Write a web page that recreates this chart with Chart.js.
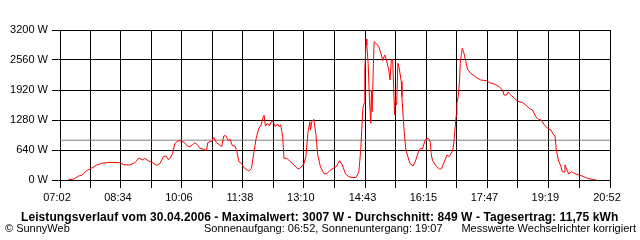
<!DOCTYPE html>
<html>
<head>
<meta charset="utf-8">
<script src="https://cdn.jsdelivr.net/npm/chart.js@4"></script>
<style>
  html, body { margin: 0; padding: 0; background: #fff; }
  #wrap { position: relative; width: 640px; height: 240px; overflow: hidden; }
  canvas { position: absolute; left: 0; top: 0; }
  .txt { position: absolute; white-space: nowrap; font-family: "Liberation Sans", Arial, sans-serif; color: #000; }
  #title { left: 21px; top: 210px; font-size: 12px; line-height: 14px; font-weight: bold; letter-spacing: 0.08px; }
  #copy { left: 5px; top: 222px; font-size: 11px; line-height: 13px; }
  #sun { left: 204px; top: 222px; font-size: 11px; line-height: 13px; }
  #note { right: 4px; top: 222px; font-size: 11px; line-height: 13px; }
</style>
</head>
<body>
<div id="wrap">
  <canvas id="c" width="640" height="240"></canvas>
  <div class="txt" id="title">Leistungsverlauf vom 30.04.2006 - Maximalwert: 3007 W - Durchschnitt: 849 W - Tagesertrag: 11,75 kWh</div>
  <div class="txt" id="copy">© SunnyWeb</div>
  <div class="txt" id="sun">Sonnenaufgang: 06:52, Sonnenuntergang: 19:07</div>
  <div class="txt" id="note">Messwerte Wechselrichter korrigiert</div>
</div>
<script>
// ---- data ----
const timeLabels = ['07:02','08:34','10:06','11:38','13:10','14:43','16:15','17:47','19:19','20:52'];
const yTickValues = [0, 640, 1280, 1920, 2560, 3200];
const averageW = 849;

const times = [
  '07:15','07:22','07:30','07:35','07:42','07:50','07:57','08:05','08:17','08:32',
  '08:38','08:47','08:55','09:01','09:07','09:10','09:15','09:20','09:28','09:33',
  '09:38','09:42','09:45','09:48','09:52','09:55','10:00','10:05','10:10','10:14',
  '10:18','10:22','10:25','10:29','10:33','10:38','10:43','10:45','10:51','10:54',
  '10:58','11:03','11:06','11:09','11:12','11:16','11:19','11:22','11:26','11:29',
  '11:32','11:36','11:39','11:43','11:47','11:51','11:54','11:58','12:02','12:05',
  '12:08','12:10','12:12','12:15','12:18','12:21','12:23','12:27','12:30','12:33',
  '12:35','12:38','12:40','12:44','12:50','12:55','13:01','13:04','13:10','13:13',
  '13:14','13:16','13:19','13:20','13:22','13:25','13:28','13:31','13:35','13:40',
  '13:44','13:49','13:54','13:59','14:04','14:08','14:13','14:18','14:24','14:29',
  '14:33','14:36','14:39','14:41','14:42','14:44','14:45','14:47','14:49','14:51',
  '14:52','14:53','14:55','14:56','14:59','15:03','15:07','15:09','15:12','15:14',
  '15:18','15:20','15:22','15:24','15:27','15:28','15:30','15:32','15:34','15:37',
  '15:38','15:40','15:42','15:44','15:47','15:50','15:55','15:59','16:03','16:06',
  '16:09','16:13','16:17','16:19','16:21','16:22','16:24','16:29','16:35','16:38',
  '16:42','16:46','16:49','16:54','16:56','16:58','17:00','17:01','17:03','17:05',
  '17:06','17:08','17:09','17:11','17:14','17:17','17:22','17:30','17:37','17:46',
  '17:50','17:57','18:05','18:10','18:12','18:16','18:18','18:22','18:27','18:32',
  '18:40','18:45','18:50','18:55','19:00','19:04','19:08','19:13','19:18','19:23',
  '19:26','19:29','19:31','19:34','19:38','19:40','19:43','19:44','19:47','19:50',
  '19:54','19:58','20:05','20:10','20:18','20:25','20:31'
];
const power = [
  10, 15, 85, 100, 200, 256, 313, 355, 377, 370,
  327, 320, 370, 469, 427, 462, 412, 384, 313, 355,
  498, 512, 441, 455, 569, 768, 839, 832, 796, 725,
  711, 750, 796, 760, 676, 660, 626, 796, 832, 910,
  796, 746, 711, 939, 946, 839, 868, 732, 725, 604,
  391, 355, 270, 228, 192, 249, 533, 889, 1102, 1152,
  1316, 1380, 1152, 1209, 1152, 1244, 1259, 1138, 1195, 1138,
  1180, 924, 462, 462, 391, 320, 235, 249, 341, 498,
  640, 996, 1244, 1067, 1244, 1294, 996, 533, 284, 142,
  128, 199, 249, 284, 412, 320, 128, 71, 50, 57,
  178, 676, 1529, 1636, 2347, 3007, 2880, 2489, 1707, 1209,
  1920, 1458, 2489, 2951, 2916, 2844, 2667, 2546, 2667, 2595,
  2361, 2133, 2560, 2570, 1387, 1707, 1600, 2489, 2382, 2100,
  1778, 1316, 924, 640, 498, 355, 299, 427, 604, 676,
  660, 853, 889, 868, 796, 569, 427, 306, 228, 249,
  391, 533, 498, 604, 746, 1067, 1387, 1636, 1778, 2133,
  2489, 2702, 2809, 2738, 2560, 2361, 2276, 2190, 2133, 2119,
  2076, 2048, 1991, 1920, 1813, 1813, 1877, 1813, 1756, 1685,
  1650, 1600, 1529, 1493, 1351, 1294, 1280, 1173, 1102, 1067,
  981, 939, 640, 427, 284, 178, 171, 320, 213, 128,
  178, 142, 107, 85, 36, 14, 0
];

// ---- helpers ----
function toMin(t) { const p = t.split(':'); return (+p[0]) * 60 + (+p[1]); }
const labelMins = timeLabels.map(toMin);
const gridMins = [];
for (let i = 0; i < labelMins.length; i++) {
  gridMins.push(labelMins[i]);
  if (i < labelMins.length - 1) gridMins.push((labelMins[i] + labelMins[i + 1]) / 2);
}
const xMin = labelMins[0], xMax = labelMins[labelMins.length - 1];

const FONT = { family: '"Liberation Sans", Arial, sans-serif', size: 11 };

new Chart(document.getElementById('c'), {
  type: 'line',
  data: {
    datasets: [
      {
        label: 'Leistung',
        data: times.map((t, i) => ({ x: toMin(t), y: power[i] })),
        borderColor: '#ff0000',
        borderWidth: 1,
        pointRadius: 0,
        tension: 0,
        fill: false,
        order: 0
      },
      {
        label: 'Durchschnitt',
        data: [{ x: xMin, y: averageW }, { x: xMax, y: averageW }],
        borderColor: '#808080',
        borderWidth: 1,
        pointRadius: 0,
        tension: 0,
        fill: false,
        order: 1
      }
    ]
  },
  options: {
    responsive: false,
    animation: false,
    devicePixelRatio: 1,
    layout: { padding: { top: 30, right: 30, left: 0, bottom: 0 } },
    plugins: { legend: { display: false }, tooltip: { enabled: false }, title: { display: false } },
    scales: {
      x: {
        type: 'linear',
        min: xMin,
        max: xMax,
        afterBuildTicks: (s) => { s.ticks = gridMins.map(v => ({ value: v })); },
        afterFit: (s) => { s.height = 60; },
        grid: { color: '#000', lineWidth: 1, tickLength: 8, tickColor: '#000' },
        border: { display: true, color: '#000', width: 1 },
        ticks: {
          autoSkip: false,
          maxRotation: 0,
          padding: 3,
          labelOffset: -3,
          color: '#000',
          font: FONT,
          callback: (v) => { const i = labelMins.indexOf(v); return i >= 0 ? timeLabels[i] : ''; }
        }
      },
      y: {
        min: 0,
        max: 3200,
        afterBuildTicks: (s) => { s.ticks = yTickValues.map(v => ({ value: v })); },
        afterFit: (s) => { s.width = 60; },
        grid: { color: '#000', lineWidth: 1, tickLength: 8, tickColor: '#000' },
        border: { display: true, color: '#000', width: 1 },
        ticks: {
          padding: 4,
          color: '#000',
          font: FONT,
          callback: (v) => v + ' W'
        }
      }
    }
  }
});
</script>
</body>
</html>
